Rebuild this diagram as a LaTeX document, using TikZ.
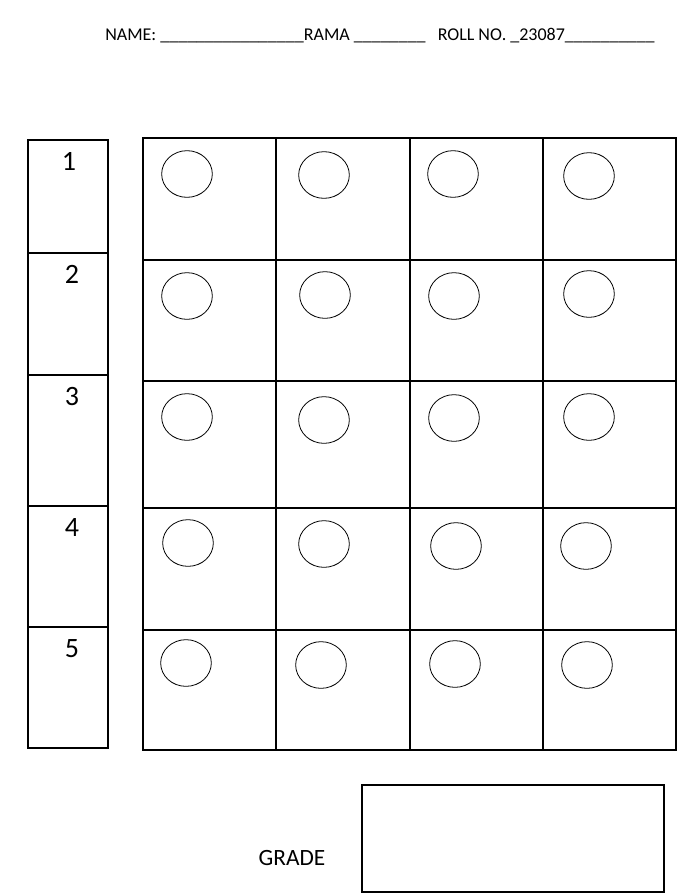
\documentclass[tikz,border=0pt]{standalone}
\usepackage{fontspec}
\setmainfont{Carlito}
\usetikzlibrary{shapes}
\tikzstyle{BoxEdge}=[draw=black, line width=0.8pt]
\tikzstyle{BubbleNode}=[ellipse, draw=black, line width=0.6pt, minimum width=38pt, minimum height=35pt, inner sep=0pt]
\tikzstyle{NumNode}=[font=\fontsize{21}{23}\selectfont]
\tikzstyle{HeadNode}=[font=\fontsize{13.5}{15}\selectfont, anchor=base west, inner sep=0pt]

\begin{document}
\begin{tikzpicture}[x=0.75pt, y=-0.75pt]
\useasboundingbox (0,0) rectangle (697,896);

\node[HeadNode](Head) at (105,40) {NAME: \_\_\_\_\_\_\_\_\_\_\_\_\_\_\_\_RAMA \_\_\_\_\_\_\_\_ \ \ ROLL NO. \_23087\_\_\_\_\_\_\_\_\_\_};

% question numbers
\draw[BoxEdge] (28,140) rectangle (108,748);
\draw[BoxEdge] (28,253) -- (108,253);
\draw[BoxEdge] (28,375) -- (108,375);
\draw[BoxEdge] (28,506) -- (108,506);
\draw[BoxEdge] (28,627) -- (108,627);
\node[NumNode](Q1) at (69,161) {1};
\node[NumNode](Q2) at (72,274) {2};
\node[NumNode](Q3) at (72,397) {3};
\node[NumNode](Q4) at (72,528) {4};
\node[NumNode](Q5) at (72,649) {5};

% answer grid
\draw[BoxEdge] (143,138) rectangle (676,750);
\draw[BoxEdge] (276,138) -- (276,750);
\draw[BoxEdge] (410,138) -- (410,750);
\draw[BoxEdge] (543,138) -- (543,750);
\draw[BoxEdge] (143,260) -- (676,260);
\draw[BoxEdge] (143,381) -- (676,381);
\draw[BoxEdge] (143,508) -- (676,508);
\draw[BoxEdge] (143,630) -- (676,630);

\node[BubbleNode](A11) at (187,174) {};
\node[BubbleNode](A12) at (324,175) {};
\node[BubbleNode](A13) at (453,174) {};
\node[BubbleNode](A14) at (589,176) {};
\node[BubbleNode](A21) at (187,296) {};
\node[BubbleNode](A22) at (325,295) {};
\node[BubbleNode](A23) at (454,296) {};
\node[BubbleNode](A24) at (589,294) {};
\node[BubbleNode](A31) at (187,417) {};
\node[BubbleNode](A32) at (324,420) {};
\node[BubbleNode](A33) at (454,418) {};
\node[BubbleNode](A34) at (589,417) {};
\node[BubbleNode](A41) at (188,543) {};
\node[BubbleNode](A42) at (324,544) {};
\node[BubbleNode](A43) at (456,546) {};
\node[BubbleNode](A44) at (586,546) {};
\node[BubbleNode](A51) at (186,663) {};
\node[BubbleNode](A52) at (321,665) {};
\node[BubbleNode](A53) at (455,664) {};
\node[BubbleNode](A54) at (587,665) {};

% grade
\node[NumNode, font=\fontsize{17.5}{19}\selectfont](Grade) at (292,858) {GRADE};
\draw[BoxEdge] (362,785) rectangle (664,892);
\end{tikzpicture}
\end{document}
